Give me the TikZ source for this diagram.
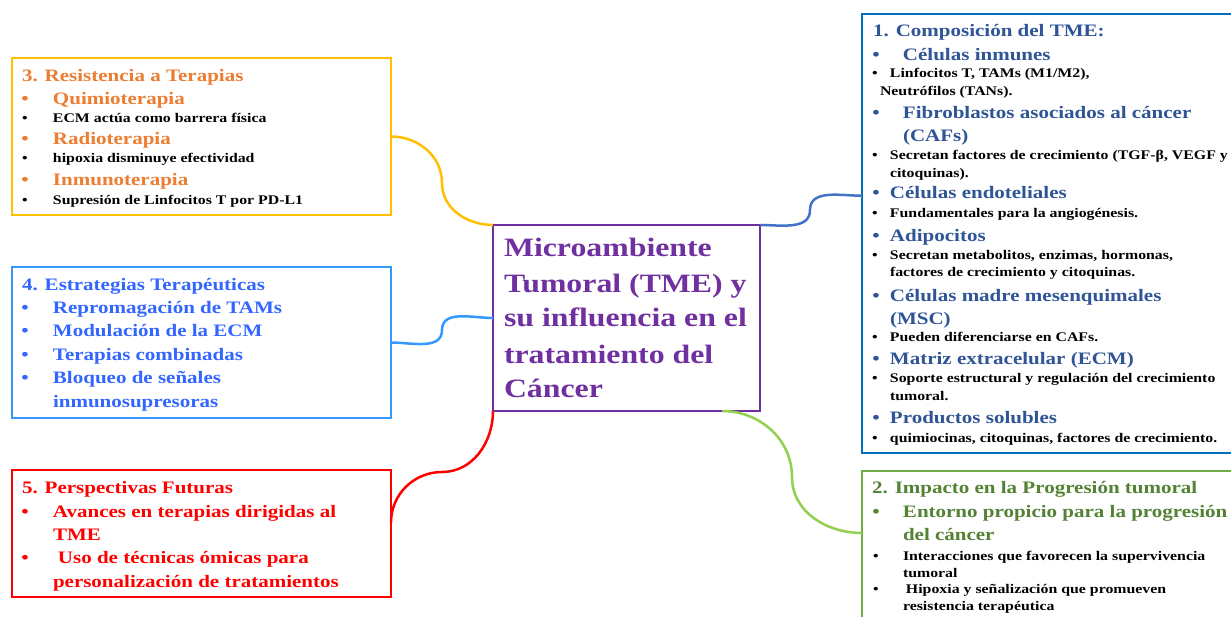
\documentclass[tikz,border=0pt]{standalone}
\usepackage{fontspec}
\setmainfont{Liberation Serif}[FakeStretch=1.2]
\usetikzlibrary{calc}
\definecolor{cOrange}{HTML}{ED7D31}
\definecolor{cYellow}{HTML}{FFC000}
\definecolor{cBlueL}{HTML}{3399FF}
\definecolor{cBlueT}{HTML}{3366FF}
\definecolor{cRed}{HTML}{FF0000}
\definecolor{cPurple}{HTML}{7030A0}
\definecolor{cBlueD}{HTML}{0070C0}
\definecolor{cBlueC}{HTML}{4472C4}
\definecolor{cBlueH}{HTML}{2F5597}
\definecolor{cGreenB}{HTML}{70AD47}
\definecolor{cGreenC}{HTML}{92D050}
\definecolor{cGreenT}{HTML}{548235}
\newcommand\bigf{\fontsize{17.5}{21}\selectfont\bfseries}
\newcommand\smallf{\fontsize{13.2}{16}\selectfont\bfseries}
\newcommand\titf{\fontsize{26.5}{35}\selectfont\bfseries}
\newcommand\mybul[1]{\llap{\makebox[0pt]{•}\hspace{#1pt}}}
\tikzset{
  txt/.style={anchor=base west, inner sep=0pt, outer sep=0pt},
  bigt/.style={txt, font=\bigf},
  smallt/.style={txt, font=\smallf, text=black},
  titt/.style={txt, font=\titf, text=cPurple},
  box/.style={draw, rectangle, line width=2.5pt, inner sep=0pt, outer sep=0pt},
  conn/.style={line width=2.5pt},
}
\begin{document}
\begin{tikzpicture}[x=1pt,y=-1pt]
\useasboundingbox[fill=white] (0,0) rectangle (1231,617);

% boxes
\node[box, draw=cYellow, minimum width=379pt, minimum height=157pt] (b3) at (201.5,136.5) {};
\node[box, draw=cBlueL, minimum width=379pt, minimum height=151pt] (b4) at (201.5,342.5) {};
\node[box, draw=cRed, minimum width=379pt, minimum height=127pt] (b5) at (201.5,533.5) {};
\node[box, draw=cPurple, minimum width=267pt, minimum height=186pt] (c) at (626.5,318) {};
\node[box, draw=cBlueD, line width=2.8pt, minimum width=400pt, minimum height=439pt] (b1) at (1062,233.5) {};
\node[box, draw=cGreenB, minimum width=400pt, minimum height=180pt] (b2) at (1062,561) {};

% connector waypoints
\coordinate (y1) at (442,183);
\coordinate (l1) at (442,330);
\coordinate (r1) at (442,472);
\coordinate (r2) at ($(b5.north east)+(0,52.5)$);
\coordinate (d1) at (810,210);
\coordinate (d2) at ($(b1.north west)!0.414!(b1.south west)$);
\coordinate (g0) at ($(c.south west)!0.858!(c.south east)$);
\coordinate (g1) at (792,477);
\coordinate (g2) at ($(b2.north west)+(0,62)$);

% connectors
\draw[conn, cYellow] (b3.east) to[out=0,in=90] (y1) to[out=-90,in=180] (c.north west);
\draw[conn, cBlueL] (b4.east) to[out=0,in=-90] (l1) to[out=90,in=180] (c.west);
\draw[conn, cRed] (c.south west) to[out=-90,in=0] (r1) to[out=180,in=90] (r2);
\draw[conn, cBlueC] (c.north east) to[out=0,in=-90] (d1) to[out=90,in=180] (d2);
\draw[conn, cGreenC] (g0) to[out=0,in=90] (g1) to[out=-90,in=180] (g2);

% box 3
\node[bigt, text=cOrange] (t3h) at (22,82) {3. Resistencia a Terapias};
\node[bigt, text=cOrange] (t3a) at (53,105) {\mybul{28}Quimioterapia};
\node[smallt] (t3b) at (53,123) {\mybul{28}ECM actúa como barrera física};
\node[bigt, text=cOrange] (t3c) at (53,145) {\mybul{28}Radioterapia};
\node[smallt] (t3d) at (53,163) {\mybul{28}hipoxia disminuye efectividad};
\node[bigt, text=cOrange] (t3e) at (53,186) {\mybul{28}Inmunoterapia};
\node[smallt] (t3f) at (53,205) {\mybul{28}Supresión de Linfocitos T por PD-L1};

% box 4
\node[bigt, text=cBlueT] (t4h) at (22,291) {4. Estrategias Terapéuticas};
\node[bigt, text=cBlueT] (t4a) at (53,314) {\mybul{28}Repromagación de TAMs};
\node[bigt, text=cBlueT] (t4b) at (53,337) {\mybul{28}Modulación de la ECM};
\node[bigt, text=cBlueT] (t4c) at (53,361) {\mybul{28}Terapias combinadas};
\node[bigt, text=cBlueT] (t4d) at (53,384) {\mybul{28}Bloqueo de señales};
\node[bigt, text=cBlueT] (t4e) at (53,407) {inmunosupresoras};

% box 5
\node[bigt, text=cRed] (t5h) at (22,493) {5. Perspectivas Futuras};
\node[bigt, text=cRed] (t5a) at (53,517) {\mybul{28}Avances en terapias dirigidas al};
\node[bigt, text=cRed] (t5b) at (53,540) {TME};
\node[bigt, text=cRed] (t5c) at (58,563) {\mybul{33}Uso de técnicas ómicas para};
\node[bigt, text=cRed] (t5d) at (53,587) {personalización de tratamientos};

% centre
\node[titt] (c1) at (504,257) {Microambiente};
\node[titt] (c2) at (504,293) {Tumoral (TME) y};
\node[titt] (c3) at (504,327) {su influencia en el};
\node[titt] (c4) at (504,363) {tratamiento del};
\node[titt] (c5) at (504,397) {Cáncer};

% box 1
\node[bigt, text=cBlueH] (t1h) at (873,37) {1. Composición del TME:};
\node[bigt, text=cBlueH] (t1a) at (903,61) {\mybul{27}Células inmunes};
\node[smallt] (t1b) at (890,78) {\mybul{15}Linfocitos T, TAMs (M1/M2),};
\node[smallt] (t1c) at (880,96) {Neutrófilos (TANs).};
\node[bigt, text=cBlueH] (t1d) at (903,119) {\mybul{27}Fibroblastos asociados al cáncer};
\node[bigt, text=cBlueH] (t1e) at (903,142) {(CAFs)};
\node[smallt] (t1f) at (890,160) {\mybul{15}Secretan factores de crecimiento (TGF-β, VEGF y};
\node[smallt] (t1g) at (890,178) {citoquinas).};
\node[bigt, text=cBlueH] (t1i) at (890,199) {\mybul{14}Células endoteliales};
\node[smallt] (t1j) at (890,218) {\mybul{15}Fundamentales para la angiogénesis.};
\node[bigt, text=cBlueH] (t1k) at (890,242) {\mybul{14}Adipocitos};
\node[smallt] (t1l) at (890,260) {\mybul{15}Secretan metabolitos, enzimas, hormonas,};
\node[smallt] (t1m) at (890,277) {factores de crecimiento y citoquinas.};
\node[bigt, text=cBlueH] (t1n) at (890,302) {\mybul{14}Células madre mesenquimales};
\node[bigt, text=cBlueH] (t1o) at (890,325) {(MSC)};
\node[smallt] (t1p) at (890,342) {\mybul{15}Pueden diferenciarse en CAFs.};
\node[bigt, text=cBlueH] (t1q) at (890,365) {\mybul{14}Matriz extracelular (ECM)};
\node[smallt] (t1r) at (890,382) {\mybul{15}Soporte estructural y regulación del crecimiento};
\node[smallt] (t1s) at (890,400) {tumoral.};
\node[bigt, text=cBlueH] (t1t) at (890,423) {\mybul{14}Productos solubles};
\node[smallt] (t1u) at (890,442) {\mybul{15}quimiocinas, citoquinas, factores de crecimiento.};

% box 2
\node[bigt, text=cGreenT] (t2h) at (872,493) {2. Impacto en la Progresión tumoral};
\node[bigt, text=cGreenT] (t2a) at (903,517) {\mybul{27}Entorno propicio para la progresión};
\node[bigt, text=cGreenT] (t2b) at (903,540) {del cáncer};
\node[smallt] (t2c) at (903,560) {\mybul{27}Interacciones que favorecen la supervivencia};
\node[smallt] (t2d) at (903,577) {tumoral};
\node[smallt] (t2e) at (906,593) {\mybul{30}Hipoxia y señalización que promueven};
\node[smallt] (t2f) at (903,610) {resistencia terapéutica};
\end{tikzpicture}
\end{document}
